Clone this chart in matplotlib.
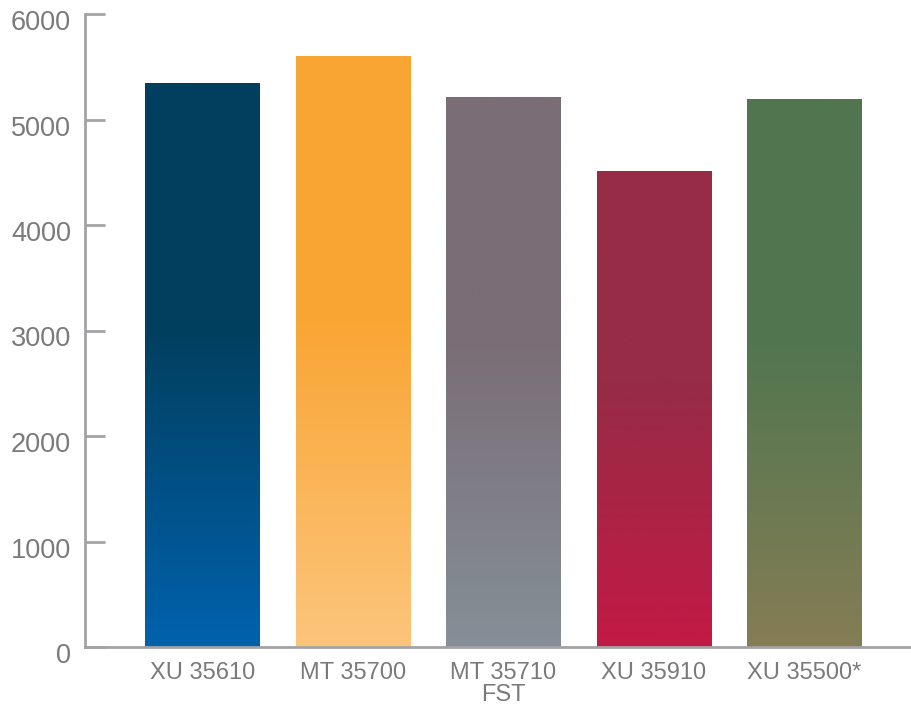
import numpy as np
import matplotlib
matplotlib.use('Agg')
import matplotlib.pyplot as plt
from matplotlib.colors import LinearSegmentedColormap
from matplotlib.transforms import ScaledTranslation

# data
products = ['XU 35610', 'MT 35700', 'MT 35710\nFST', 'XU 35910', 'XU 35500*']
values = [5350, 5600, 5210, 4510, 5190]
topColors = ['#023F5F', '#F9A533', '#7A6D76', '#962C45', '#51764F']
bottomColors = ['#0062AD', '#FCC57C', '#858F97', '#C21A45', '#857D55']
yTicks = [0, 1000, 2000, 3000, 4000, 5000, 6000]

AXIS_GREY = '#A3A3A6'
TEXT_GREY = '#7A7A7A'

plt.rcParams['font.family'] = ['Liberation Sans', 'DejaVu Sans']

fig = plt.figure(figsize=(9.11, 7.10), dpi=100)
ax = fig.add_axes([85 / 911, 63 / 710, 826 / 911, 633 / 710])

x = np.arange(len(products))
bars = ax.bar(x, values, width=0.76, color='none', edgecolor='none', zorder=2)

# vertical gradient per bar: bottom colour -> top colour, flat over the upper part
grad = np.linspace(0, 1, 256).reshape(-1, 1)
for patch, top, bottom in zip(bars, topColors, bottomColors):
    cmap = LinearSegmentedColormap.from_list(
        'bar', [(0.0, bottom), (0.56, top), (1.0, top)])
    x0, y0 = patch.get_x(), patch.get_y()
    img = ax.imshow(grad, cmap=cmap, origin='lower', aspect='auto',
                    extent=(x0, x0 + patch.get_width(), y0, y0 + patch.get_height()),
                    zorder=2, interpolation='bilinear')
    img.set_clip_path(patch)

ax.set_xlim(-0.78, 4.71)
ax.set_ylim(0, 6000)

for side in ('top', 'right'):
    ax.spines[side].set_visible(False)
for side in ('left', 'bottom'):
    ax.spines[side].set_color(AXIS_GREY)
    ax.spines[side].set_linewidth(2.0)
    ax.spines[side].set_zorder(3)

ax.set_yticks(yTicks)
ax.set_yticklabels([str(t) for t in yTicks])
ax.tick_params(axis='y', direction='in', length=14.5, width=2.0, color=AXIS_GREY,
               labelsize=19.5, labelcolor=TEXT_GREY, pad=10)
ax.set_xticks(x)
ax.set_xticklabels(products, linespacing=1.0)
ax.tick_params(axis='x', length=0, labelsize=17, labelcolor=TEXT_GREY, pad=11)

shift = ScaledTranslation(0, -6 / 100, fig.dpi_scale_trans)
for label in ax.get_yticklabels():
    label.set_transform(label.get_transform() + shift)

fig.savefig('out.png', dpi=100)
